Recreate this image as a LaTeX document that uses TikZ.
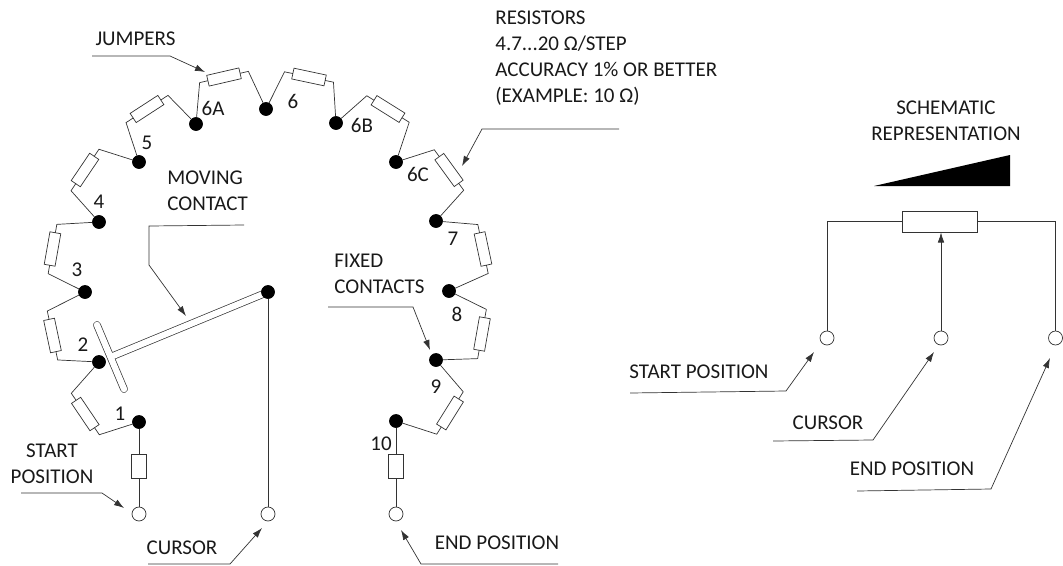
\documentclass[tikz,border=0pt]{standalone}
\usepackage{fontspec}
\setmainfont{Carlito}
\usetikzlibrary{arrows.meta, calc}
\tikzset{
	x=1pt, y=-1pt, % Coordenadas en pixeles de la imagen
	>={Latex[length=10pt,width=6.5pt]}, % Punta de las flechas
	every node/.style={font=\fontsize{21}{26}\selectfont, text=black!90, inner sep=0pt},
	contact/.style={circle, fill=black, draw=black, minimum size=13pt}, % Contactos fijos
	terminal/.style={circle, draw, fill=white, minimum size=14pt}, % Terminales
	res/.style={rectangle, outer sep=0pt, minimum width=33pt, minimum height=11pt},
	endres/.style={rectangle, outer sep=0pt, minimum width=15pt, minimum height=24pt},
	leader/.style={->}
}
\begin{document}
\begin{tikzpicture}[line width=0.7pt, color=black!80]
	\useasboundingbox (0,0) rectangle (1063,565);
	% Brazo movil
	\coordinate (pvc) at (268,292);
	\coordinate (tee) at (110.5,357);
	\coordinate (bara) at (97,325);
	\coordinate (barb) at (124,389);
	\draw[line width=7.6pt, line cap=round] (pvc) -- (tee) (bara) -- (barb);
	\draw[line width=6.2pt, line cap=round, draw=white] (pvc) -- (tee) (bara) -- (barb);
	% Contactos
	\node[contact] (c1) at (139,422) {};
	\node[contact] (c2) at (99,362) {};
	\node[contact] (c3) at (85,292) {};
	\node[contact] (c4) at (99,222) {};
	\node[contact] (c5) at (139,162) {};
	\node[contact] (c6A) at (196,124) {};
	\node[contact] (c6) at (266,109) {};
	\node[contact] (c6B) at (336,123) {};
	\node[contact] (c6C) at (396,162) {};
	\node[contact] (c7) at (436,221) {};
	\node[contact] (c8) at (449,291) {};
	\node[contact] (c9) at (436,360) {};
	\node[contact] (c10) at (396,421) {};
	\node[contact] (pv) at (pvc) {};
	\node[terminal] (tstart) at (139,514) {};
	\node[terminal] (tcursor) at (268,514) {};
	\node[terminal] (tend) at (396,514) {};
	% Resistencias del anillo
	\foreach \from/\to/\cx/\cy/\ang in {
		c1/c2/85.3/414/124, c2/c3/52.5/335.5/102, c3/c4/52.5/249/80,
		c4/c5/85/170/56, c5/c6A/147/109/33, c6A/c6/224/77/13,
		c6/c6B/309/77/-12, c6B/c6C/388/109/-32, c6C/c7/449/170/-54,
		c7/c8/483/249/-78, c8/c9/482/334/-100, c9/c10/450/413/-122}{
		\node[res, draw, rotate=\ang] (r\from) at (\cx,\cy) {};
		\draw (\from) -- ($(r\from.west)!-8.5pt!(r\from.east)$) -- (r\from.west)
			(r\from.east) -- ($(r\from.east)!-8.5pt!(r\from.west)$) -- (\to);
	}
	\node[endres, draw] (rstart) at (139,466) {};
	\node[endres, draw] (rend) at (396,466) {};
	\draw (c1) -- (rstart) -- (tstart);
	\draw (c10) -- (rend) -- (tend);
	\draw (pv) -- (tcursor);
	% Numeros
	\node (n1) at (120,414) {1};
	\node (n2) at (83,345) {2};
	\node (n3) at (77,270) {3};
	\node (n4) at (99,202) {4};
	\node (n5) at (147,143) {5};
	\node (n6A) at (213,108) {6A};
	\node (n6) at (293,101) {6};
	\node (n6B) at (362,125) {6B};
	\node (n6C) at (418,174) {6C};
	\node (n7) at (453,239) {7};
	\node (n8) at (457,314) {8};
	\node (n9) at (436,387) {9};
	\node (n10) at (381,444) {10};
	% Textos
	\node (ljumpers) at (135.5,39) {JUMPERS};
	\node[anchor=west, align=left] (lmoving) at (167,191) {MOVING\\CONTACT};
	\node[anchor=west, align=left] (lres) at (495,58) {RESISTORS\\4.7...20 Ω/STEP\\ACCURACY 1\% OR BETTER\\(EXAMPLE: 10 Ω)};
	\node[anchor=west, align=left] (lfixed) at (334,274) {FIXED\\CONTACTS};
	\node[align=center] (lstart) at (52,464) {START\\POSITION};
	\node (lcursor) at (182,548) {CURSOR};
	\node (lend) at (497,543) {END POSITION};
	\node[align=center] (lschem) at (946,120.5) {SCHEMATIC\\REPRESENTATION};
	\node (lstart2) at (699,372) {START POSITION};
	\node (lcursor2) at (828,423) {CURSOR};
	\node (lend2) at (912,469) {END POSITION};
	% Flechas de referencia
	\coordinate (jp0) at (92,56); \coordinate (jp1) at (170,56); \coordinate (jp2) at (205,72);
	\coordinate (mv0) at (244,225); \coordinate (mv1) at (149,226); \coordinate (mv2) at (149,265); \coordinate (mv3) at (186,316);
	\coordinate (rs0) at (619,129); \coordinate (rs1) at (482,129); \coordinate (rs2) at (462,166);
	\coordinate (fx0) at (328,307); \coordinate (fx1) at (413,307); \coordinate (fx2) at (430,350);
	\coordinate (st0) at (21,493); \coordinate (st1) at (102,493); \coordinate (st2) at (124,508);
	\coordinate (cu0) at (148,564); \coordinate (cu1) at (230,564); \coordinate (cu2) at (262,528);
	\coordinate (en0) at (558,564); \coordinate (en1) at (421,564); \coordinate (en2) at (401,530);
	\draw[leader] (jp0) -- (jp1) -- (jp2);
	\draw[leader] (mv0) -- (mv1) -- (mv2) -- (mv3);
	\draw[leader] (rs0) -- (rs1) -- (rs2);
	\draw[leader] (fx0) -- (fx1) -- (fx2);
	\draw[leader] (st0) -- (st1) -- (st2);
	\draw[leader] (cu0) -- (cu1) -- (cu2);
	\draw[leader] (en0) -- (en1) -- (en2);
	% Representacion esquematica
	\coordinate (w0) at (874,186); \coordinate (w1) at (1010,186); \coordinate (w2) at (1010,155);
	\fill[black] (w0) -- (w1) -- (w2) -- cycle;
	\node[rectangle, draw, outer sep=0pt, minimum width=75pt, minimum height=21pt] (pot) at (939.5,221.5) {};
	\node[terminal] (sstart) at (827,338) {};
	\node[terminal] (scursor) at (941,338) {};
	\node[terminal] (send) at (1055.5,338) {};
	\draw (sstart) |- (pot.west);
	\draw (send) |- (pot.east);
	\draw[->] (scursor) -- (941,232.5);
	\coordinate (a0) at (630,393); \coordinate (a1) at (786,391); \coordinate (a2) at (814,352);
	\coordinate (b0) at (773,441); \coordinate (b1) at (873,440); \coordinate (b2) at (934,352);
	\coordinate (d0) at (857,491); \coordinate (d1) at (991,489); \coordinate (d2) at (1050,358);
	\draw[leader] (a0) -- (a1) -- (a2);
	\draw[leader] (b0) -- (b1) -- (b2);
	\draw[leader] (d0) -- (d1) -- (d2);
\end{tikzpicture}
\end{document}
